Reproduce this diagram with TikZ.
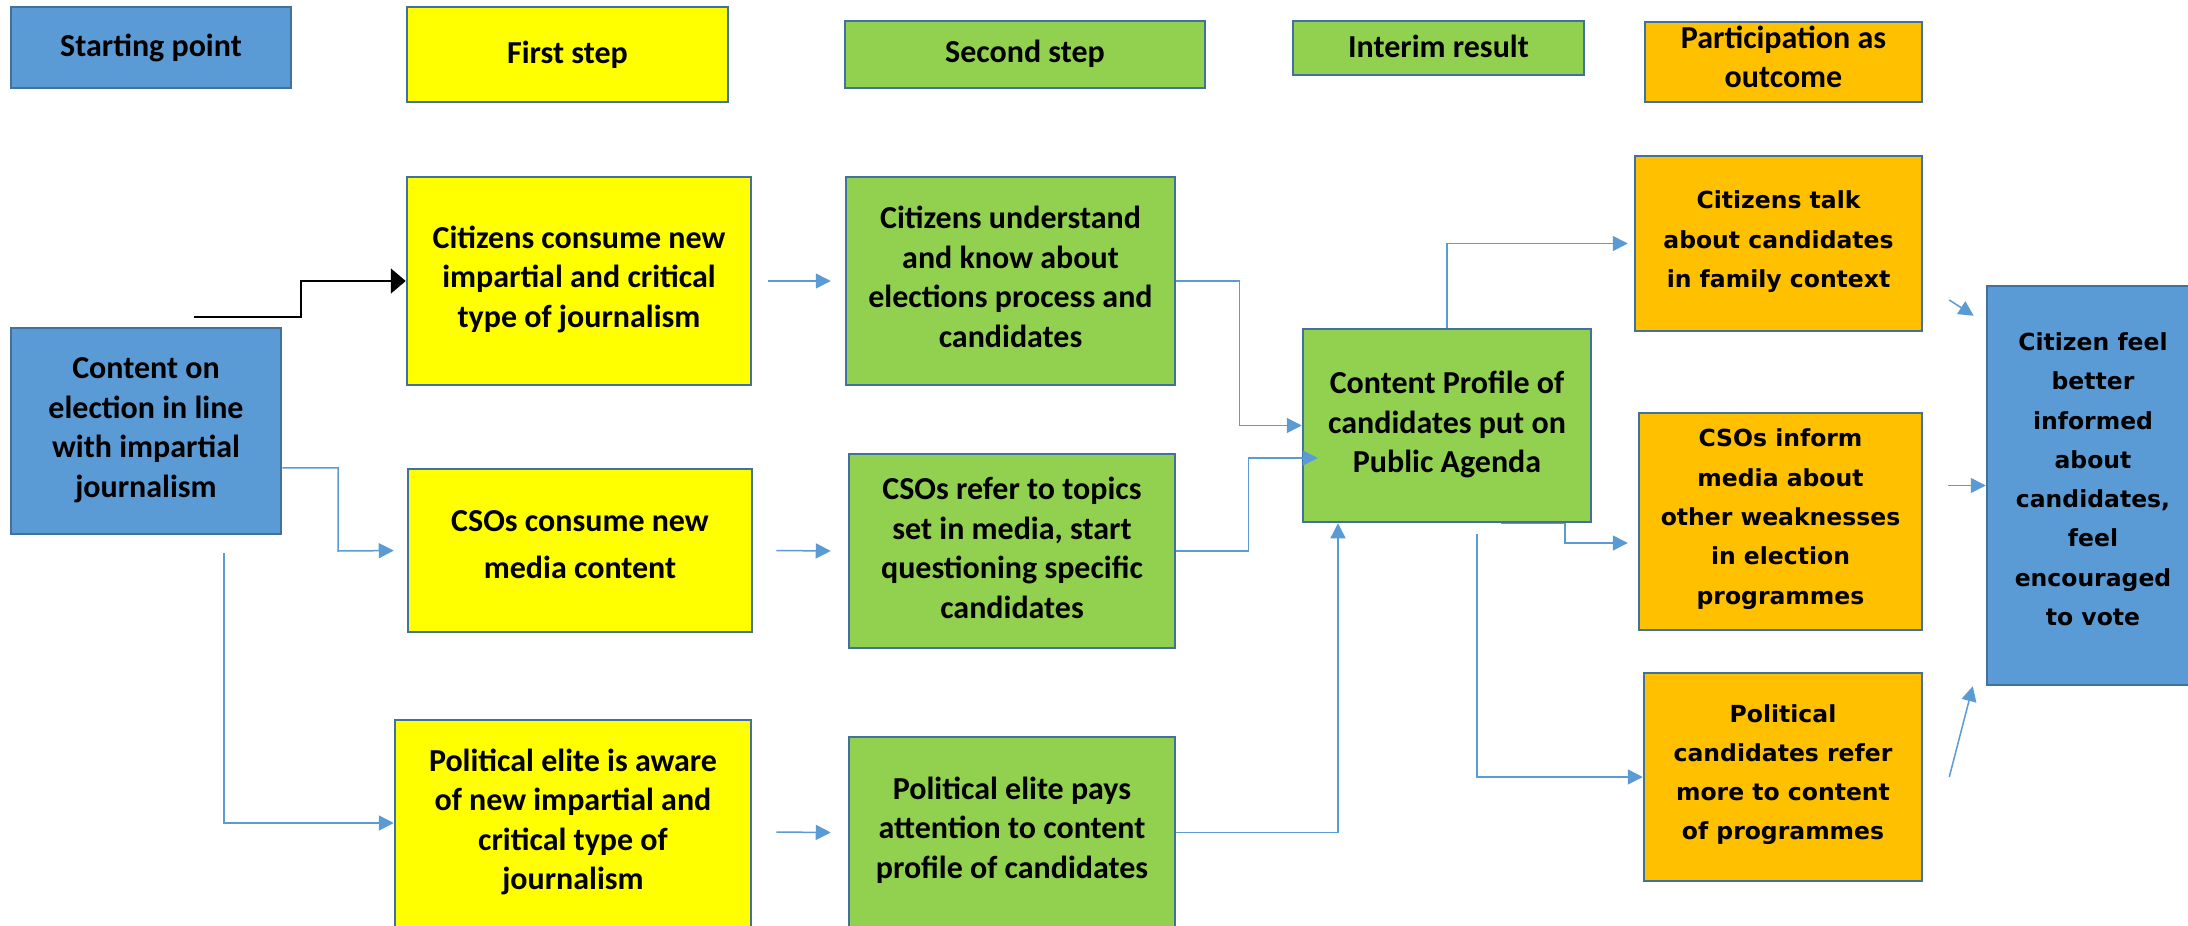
\documentclass[tikz,border=0pt]{standalone}
\usepackage{fontspec}
\setmainfont{Carlito}
\newfontfamily\calibfont{Carlito}
\newfontfamily\verdfont{DejaVu Sans}
\usetikzlibrary{arrows.meta,fit}

\definecolor{boxblue}{HTML}{5B9BD5}
\definecolor{edgeblue}{HTML}{41719C}
\definecolor{boxyellow}{HTML}{FFFF00}
\definecolor{boxgreen}{HTML}{92D050}
\definecolor{boxorange}{HTML}{FFC000}
\definecolor{linkblue}{HTML}{5B9BD5}

\tikzset{
  box/.style={rectangle, draw=edgeblue, line width=2.5pt, inner sep=0pt},
  startbox/.style={box, fill=boxblue},
  firstbox/.style={box, fill=boxyellow},
  secondbox/.style={box, fill=boxgreen},
  outcomebox/.style={box, fill=boxorange},
  caltext/.style={align=center, inner sep=0pt,
    font=\calibfont\bfseries\fontsize{32}{39.5}\selectfont,
    execute at begin node=\strut, execute at end node=\strut},
  widetext/.style={align=center, inner sep=0pt,
    font=\verdfont\bfseries\fontsize{23.5}{39.3}\selectfont,
    execute at begin node=\strut, execute at end node=\strut},
  conn/.style={draw=linkblue, line width=1.5pt, -{Triangle[length=15pt,width=15pt]}},
  blackarrow/.style={draw=black, line width=2pt, -{Triangle[length=15pt,width=25pt]}},
}

\begin{document}
\begin{tikzpicture}[x=1pt,y=-1pt]
\fill[white] (0,0) rectangle (2188,926);
\useasboundingbox (0,0) rectangle (2188,926);

% legend row
\node[startbox,   fit={(11,7) (291,88)}]     (legstart)   {};
\node[firstbox,   fit={(407,7) (728,102)}]   (legfirst)   {};
\node[secondbox,  fit={(845,21) (1205,88)}]  (legsecond)  {};
\node[secondbox,  fit={(1293,21) (1584,75)}] (leginterim) {};
\node[outcomebox, fit={(1645,22) (1922,102)}] (legoutcome) {};
\node[caltext] (legstart-t)   at (151,49)    {Starting point};
\node[caltext] (legfirst-t)   at (567.5,56)  {First step};
\node[caltext] (legsecond-t)  at (1025,55)   {Second step};
\node[caltext] (leginterim-t) at (1438.5,50) {Interim result};
\node[caltext] (legoutcome-t) at (1783.5,62.5) {Participation as\\outcome};

% starting point
\node[startbox, fit={(11,328) (281,534)}] (content) {};
\node[caltext] (content-t) at (146,433.5) {Content on\\election in line\\with impartial\\journalism};

% first step
\node[firstbox, fit={(407,177) (751,385)}] (cc) {};
\node[caltext] (cc-t) at (579,282.5) {Citizens consume new\\impartial and critical\\type of journalism};
\node[firstbox, fit={(408,469) (752,632)}] (csc) {};
\node[caltext, font=\calibfont\bfseries\fontsize{32}{47}\selectfont] (csc-t) at (580,551.5) {CSOs consume new\\media content};
\node[firstbox, fit={(395,720) (751,944)}] (pea) {};
\node[caltext] (pea-t) at (573,825) {Political elite is aware\\of new impartial and\\critical type of\\journalism};

% second step
\node[secondbox, fit={(846,177) (1175,385)}] (cu) {};
\node[caltext] (cu-t) at (1010.5,282.5) {Citizens understand\\and know about\\elections process and\\candidates};
\node[secondbox, fit={(849,454) (1175,648)}] (csr) {};
\node[caltext] (csr-t) at (1012,553.5) {CSOs refer to topics\\set in media, start\\questioning specific\\candidates};
\node[secondbox, fit={(849,737) (1175,928)}] (pep) {};
\node[caltext] (pep-t) at (1012,833.5) {Political elite pays\\attention to content\\profile of candidates};

% interim result
\node[secondbox, fit={(1303,329) (1591,522)}] (cp) {};
\node[caltext] (cp-t) at (1447,428) {Content Profile of\\candidates put on\\Public Agenda};

% participation as outcome
\node[outcomebox, fit={(1635,156) (1922,331)}] (ct) {};
\node[widetext] (ct-t) at (1778.5,245) {Citizens talk\\about candidates\\in family context};
\node[outcomebox, fit={(1639,413) (1922,630)}] (ci) {};
\node[widetext] (ci-t) at (1780.5,522.5) {CSOs inform\\media about\\other weaknesses\\in election\\programmes};
\node[outcomebox, fit={(1644,673) (1922,881)}] (pc) {};
\node[widetext] (pc-t) at (1783,778) {Political\\candidates refer\\more to content\\of programmes};

% final effect
\node[startbox, fit={(1987,286) (2200,685)}] (cf) {};
\node[widetext] (cf-t) at (2093,485) {Citizen feel\\better\\informed\\about\\candidates,\\feel\\encouraged\\to vote};

% connectors
\coordinate (feed) at (194,317);
\draw[blackarrow] (feed) -- (301,317) |- (cc.west);

\draw[conn, shorten >=13pt] (content.east |- csc.north) -| (338,551) -- (csc.west);
\coordinate (elitefoot) at (224,553);
\draw[conn] (elitefoot) |- ([yshift=9pt]pea.west);

\draw[conn] ([xshift=16pt]cc.east) -- ([xshift=-14pt]cu.west);
\draw[conn] ([xshift=23pt]csc.east) -- ([xshift=-17pt]csr.west);
\draw[conn] ([xshift=24pt]pea.east) -- ([xshift=-17pt]pep.west);

\draw[conn] (cu.east) -- ++(63,0) |- (cp.west);
\draw[conn] (csr.east) -- ++(72,0) |- ([xshift=16pt,yshift=-32.5pt]cp.west);
\draw[conn] (pep.east) -| ([xshift=-109pt]cp.south);

\draw[conn] (cp.north) |- ([xshift=-6pt]ct.west);
\draw[conn] ([xshift=54pt]cp.south) -- ([xshift=118pt]cp.south) |- ([xshift=-10pt,yshift=-21.5pt]ci.west);
\coordinate (agendafoot) at (1477,534);
\draw[conn] (agendafoot) |- (pc.west);

\draw[conn] ([xshift=26pt,yshift=-56.5pt]ct.east) -- ([xshift=-12pt,yshift=-31pt]cf.north west);
\draw[conn] ([xshift=-38pt]cf.west) -- (cf.west);
\draw[conn] ([xshift=26pt]pc.east) -- ([xshift=-13pt]cf.south west);
\end{tikzpicture}
\end{document}
